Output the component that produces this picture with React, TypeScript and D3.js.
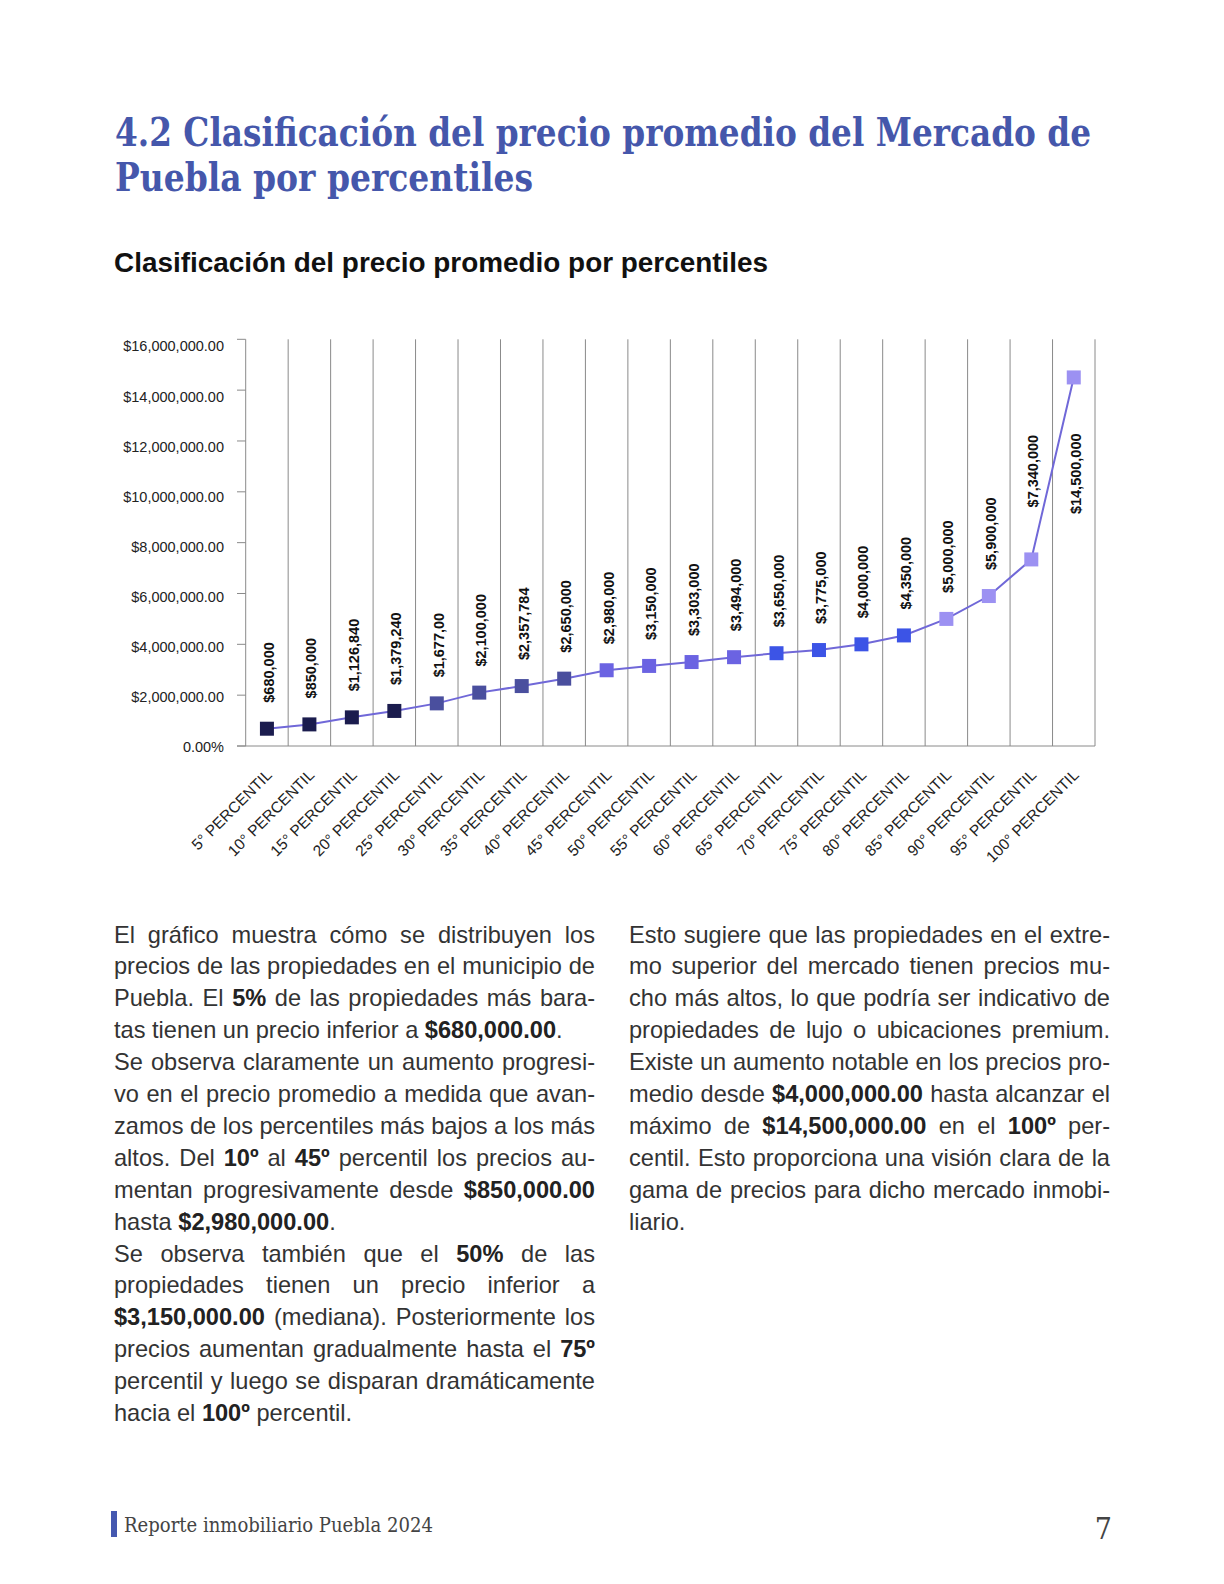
import React from 'react';
import * as d3 from 'd3';

// ---------- data ----------
const percentiles = ["5°", "10°", "15°", "20°", "25°", "30°", "35°", "40°", "45°", "50°", "55°", "60°", "65°", "70°", "75°", "80°", "85°", "90°", "95°", "100°"];
const values = [680000, 850000, 1126840, 1379240, 1677000, 2100000, 2357784, 2650000, 2980000, 3150000, 3303000, 3494000, 3650000, 3775000, 4000000, 4350000, 5000000, 5900000, 7340000, 14500000];
const valueLabels = ["$680,000", "$850,000", "$1,126,840", "$1,379,240", "$1,677,00", "$2,100,000", "$2,357,784", "$2,650,000", "$2,980,000", "$3,150,000", "$3,303,000", "$3,494,000", "$3,650,000", "$3,775,000", "$4,000,000", "$4,350,000", "$5,000,000", "$5,900,000", "$7,340,000", "$14,500,000"];
const yTickValues = [0, 2000000, 4000000, 6000000, 8000000, 10000000, 12000000, 14000000, 16000000];
const groupColors = ["#1b1c4e", "#4a4f9e", "#6b63e2", "#3c54e6", "#9c91f2"];

const titleLines = ["4.2 Clasificación del precio promedio del Mercado de", "Puebla por percentiles"];
const chartTitle = "Clasificación del precio promedio por percentiles";

const leftColumn = [
  { t: "El gráfico muestra cómo se distribuyen los", j: true },
  { t: "precios de las propiedades en el municipio de", j: true },
  { t: "Puebla. El **5%** de las propiedades más bara-", j: true },
  { t: "tas tienen un precio inferior a **$680,000.00**.", j: false },
  { t: "Se observa claramente un aumento progresi-", j: true },
  { t: "vo en el precio promedio a medida que avan-", j: true },
  { t: "zamos de los percentiles más bajos a los más", j: true },
  { t: "altos. Del **10º** al **45º** percentil los precios au-", j: true },
  { t: "mentan progresivamente desde **$850,000.00**", j: true },
  { t: "hasta **$2,980,000.00**.", j: false },
  { t: "Se observa también que el **50%** de las", j: true },
  { t: "propiedades tienen un precio inferior a", j: true },
  { t: "**$3,150,000.00** (mediana). Posteriormente los", j: true },
  { t: "precios aumentan gradualmente hasta el **75º**", j: true },
  { t: "percentil y luego se disparan dramáticamente", j: true },
  { t: "hacia el **100º** percentil.", j: false },
];
const rightColumn = [
  { t: "Esto sugiere que las propiedades en el extre-", j: true },
  { t: "mo superior del mercado tienen precios mu-", j: true },
  { t: "cho más altos, lo que podría ser indicativo de", j: true },
  { t: "propiedades de lujo o ubicaciones premium.", j: true },
  { t: "Existe un aumento notable en los precios pro-", j: true },
  { t: "medio desde **$4,000,000.00** hasta alcanzar el", j: true },
  { t: "máximo de **$14,500,000.00** en el **100º** per-", j: true },
  { t: "centil. Esto proporciona una visión clara de la", j: true },
  { t: "gama de precios para dicho mercado inmobi-", j: true },
  { t: "liario.", j: false },
];
const footerText = "Reporte inmobiliario Puebla 2024";
const pageNumber = "7";

// ---------- layout ----------
const W = 1224, H = 1584;
const plot = { left: 245.7, right: 1095, top: 339.3, bottom: 746 };
const BODY_SIZE = 23.6;
const BODY_FONT = "'Liberation Sans', Arial, sans-serif";
const SERIF = "'DejaVu Serif Condensed', 'DejaVu Serif', serif";

let ctx: CanvasRenderingContext2D | null = null;
function measure(text: string, bold: boolean, size: number) {
  if (!ctx) ctx = document.createElement('canvas').getContext('2d');
  ctx!.font = `${bold ? 'bold ' : ''}${size}px "Liberation Sans"`;
  return ctx!.measureText(text).width;
}

function parseWord(w: string) {
  return w.split('**').map((p, i) => ({ text: p, bold: i % 2 === 1 })).filter(s => s.text.length > 0);
}

function Paragraph({ lines, x, y0, width, lh }: any) {
  const out: any[] = [];
  const spaceW = measure(' ', false, BODY_SIZE);
  lines.forEach((ln: any, li: number) => {
    const words = ln.t.split(' ').map(parseWord);
    const widths = words.map((segs: any[]) => segs.reduce((a, s) => a + measure(s.text, s.bold, BODY_SIZE), 0));
    const total = widths.reduce((a: number, b: number) => a + b, 0);
    const gap = ln.j && words.length > 1 ? (width - total) / (words.length - 1) : spaceW;
    let cx = x;
    const y = y0 + li * lh;
    words.forEach((segs: any[], wi: number) => {
      out.push(
        <text key={`${li}-${wi}`} x={cx} y={y} fontFamily={BODY_FONT} fontSize={BODY_SIZE} fill="#333">
          {segs.map((s: any, si: number) => (
            <tspan key={si} fontWeight={s.bold ? 'bold' : 'normal'} fill={s.bold ? '#222' : '#333'}>{s.text}</tspan>
          ))}
        </text>
      );
      cx += widths[wi] + gap;
    });
  });
  return <g>{out}</g>;
}

export default function App() {
  const categories = percentiles.map(p => `${p} PERCENTIL`);
  const x = d3.scaleBand().domain(categories).range([plot.left, plot.right]).padding(0);
  const y = d3.scaleLinear().domain([0, 16000000]).range([plot.bottom, plot.top]);
  // tick labels in the reference sit on a slightly wider spacing than the tick marks
  const yLabel = d3.scaleLinear().domain([0, 16000000]).range([747.3, 346.4]);
  const bw = x.bandwidth();
  const cxOf = (i: number) => (x(categories[i]) as number) + bw / 2;
  const pts = values.map((v, i) => [cxOf(i), y(v)] as [number, number]);
  const linePath = d3.line()(pts) as string;
  const yFmt = (v: number) => (v === 0 ? '0.00%' : '$' + d3.format(',.2f')(v));
  const LABEL_SIZE = 14.5;

  // y of the polyline at a given x
  const lineYAt = (px: number) => {
    for (let k = 0; k < pts.length - 1; k++) {
      const [x0, y0] = pts[k], [x1, y1] = pts[k + 1];
      if (px >= x0 && px <= x1) return y0 + (y1 - y0) * (px - x0) / (x1 - x0);
    }
    return Infinity;
  };

  return (
    <svg width={W} height={H} viewBox={`0 0 ${W} ${H}`} style={{ position: 'absolute', left: 0, top: 0, background: '#fff' }}>
      <rect x={0} y={0} width={W} height={H} fill="#fff" />
      {/* Title */}
      {titleLines.map((t, i) => (
        <text key={i} x={115} y={145.5 + i * 45.5} fontFamily={SERIF} fontWeight="bold" fontSize={39} fill="#4557ab"
          textLength={i === 0 ? 976 : 418} lengthAdjust="spacingAndGlyphs">{t}</text>
      ))}
      {/* Chart title */}
      <text x={114} y={272} fontFamily={BODY_FONT} fontWeight="bold" fontSize={27.9} fill="#111">{chartTitle}</text>

      {/* gridlines */}
      {categories.map((c) => (
        <line key={c} x1={(x(c) as number) + bw} x2={(x(c) as number) + bw} y1={plot.top} y2={plot.bottom} stroke="#8a8a8a" strokeWidth={1} />
      ))}
      {/* axes */}
      <line x1={plot.left} x2={plot.left} y1={plot.top} y2={plot.bottom} stroke="#8a8a8a" strokeWidth={1} />
      <line x1={237} x2={plot.right} y1={plot.bottom} y2={plot.bottom} stroke="#8a8a8a" strokeWidth={1} />
      {yTickValues.map(v => (
        <g key={v}>
          <line x1={237} x2={plot.left} y1={y(v)} y2={y(v)} stroke="#8a8a8a" strokeWidth={1} />
          <text x={224} y={yLabel(v)} textAnchor="end" dominantBaseline="central" fontFamily={BODY_FONT} fontSize={14.5} fill="#222">{yFmt(v)}</text>
        </g>
      ))}
      {/* x labels */}
      {categories.map((c, i) => (
        <text key={c} transform={`translate(${cxOf(i) + 6},${plot.bottom + 30}) rotate(-45)`} textAnchor="end"
          fontFamily={BODY_FONT} fontSize={15.5} fill="#222">{c}</text>
      ))}
      {/* line */}
      <path d={linePath} fill="none" stroke="#7068d8" strokeWidth={2} />
      {/* markers */}
      {pts.map(([px, py], i) => (
        <rect key={i} x={px - 7} y={py - 7} width={14} height={14} fill={groupColors[Math.floor(i / 4)]} />
      ))}
      {/* data labels */}
      {pts.map(([px, py], i) => {
        const len = measure(valueLabels[i], true, LABEL_SIZE);
        const start = Math.min(py - 26, lineYAt(px + 14) + 8);
        const fitsAbove = start - len > plot.top;
        return fitsAbove ? (
          <text key={i} transform={`translate(${px + 2},${start}) rotate(-90)`} textAnchor="start" dominantBaseline="central"
            fontFamily={BODY_FONT} fontWeight="bold" fontSize={LABEL_SIZE} fill="#111">{valueLabels[i]}</text>
        ) : (
          <text key={i} transform={`translate(${px + 2},${py + 56}) rotate(-90)`} textAnchor="end" dominantBaseline="central"
            fontFamily={BODY_FONT} fontWeight="bold" fontSize={LABEL_SIZE} fill="#111">{valueLabels[i]}</text>
        );
      })}

      {/* Body text */}
      <Paragraph lines={leftColumn} x={114} y0={942.5} width={481} lh={31.9} />
      <Paragraph lines={rightColumn} x={629} y0={942.5} width={481} lh={31.9} />

      {/* Footer */}
      <rect x={111} y={1511} width={6} height={26} fill="#4558b0" />
      <text x={124} y={1532} fontFamily={SERIF} fontSize={21} fill="#444" textLength={309} lengthAdjust="spacingAndGlyphs">{footerText}</text>
      <text x={1112} y={1539} textAnchor="end" fontFamily={SERIF} fontSize={30} fill="#444">{pageNumber}</text>
    </svg>
  );
}
